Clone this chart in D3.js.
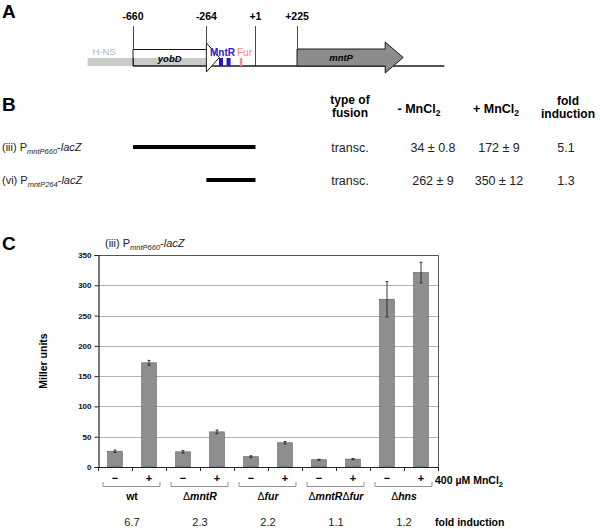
<!DOCTYPE html>
<html><head><meta charset="utf-8">
<script src="https://cdn.jsdelivr.net/npm/d3@7"></script>
<style>body{margin:0;background:#fff}svg{font-family:"Liberation Sans",Arial,sans-serif}</style>
</head><body><svg id="c" width="600" height="529"></svg>
<script>
// ---- Panel A: gene map (positions in bp relative to +1) ----
const mapTicks = [-660, -264, 1, 225];
const mapTickLabels = ["-660", "-264", "+1", "+225"];
const hnsRegion = [-905, -264];
const yobD = [-660, -264, -194];      // start, body end, arrow tip
const mntRSites = [-196, -155];
const furSites = [-84];
const mntP = [225, 798];               // start, arrow tip
const lineSpan = [-660, 1020];

// ---- Panel B: table ----
const fusionNames = [["(iii) P", "mntP660", "-lacZ"], ["(vi) P", "mntP264", "-lacZ"]];
const fusionStarts = [-660, -264];
const fusionEnd = 1;
const fusionType = ["transc.", "transc."];
const minusMn = ["34 ± 0.8", "262 ± 9"];
const plusMn = ["172 ± 9", "350 ± 12"];
const foldB = ["5.1", "1.3"];

// ---- Panel C: bar chart ----
const strains = ["wt", "ΔmntR", "Δfur", "ΔmntRΔfur", "Δhns"];
const conditions = ["−", "+"];
const values = [26, 172, 25, 58, 17, 40, 12, 13, 277, 321];
const errors = [2, 4, 2, 3, 1.5, 2, 0.8, 1, 29, 17];
const foldC = ["6.7", "2.3", "2.2", "1.1", "1.2"];
const yTicks = [0, 50, 100, 150, 200, 250, 300, 350];

const svg = d3.select("#c");
const black = "#1a1a1a";

// ================= Panel A =================
const gx = d3.scaleLinear().domain([-660, 225]).range([133, 297]);
svg.append("text").attr("x", 2).attr("y", 18).attr("font-size", 19).attr("font-weight", "bold").text("A");

svg.append("rect").attr("x", gx(hnsRegion[0])).attr("y", 58).attr("width", gx(hnsRegion[1]) - gx(hnsRegion[0])).attr("height", 8).attr("fill", "#c9cbc9");
svg.append("text").attr("x", gx(hnsRegion[0]) + 5).attr("y", 55).attr("font-size", 9.5).attr("fill", "#b5b5b5").text("H-NS");

svg.append("line").attr("x1", gx(lineSpan[0])).attr("x2", gx(lineSpan[1])).attr("y1", 66).attr("y2", 66).attr("stroke", black).attr("stroke-width", 1.6);

mapTicks.forEach((t, i) => {
  const x = Math.round(gx(t)) + 0.5;
  svg.append("line").attr("x1", x).attr("x2", x).attr("y1", 26).attr("y2", i === 1 ? 44 : 66).attr("stroke", black).attr("stroke-width", 0.8);
  svg.append("text").attr("x", gx(t)).attr("y", 20).attr("text-anchor", "middle").attr("font-size", 10.5).attr("font-weight", "bold").text(mapTickLabels[i]);
});

svg.append("rect").attr("x", gx(yobD[0])).attr("y", 49.5).attr("width", gx(yobD[1]) - gx(yobD[0])).attr("height", 8.5).attr("fill", "#fff");
svg.append("path").attr("d", `M${gx(yobD[0])},66 V49.5 H${gx(yobD[1])}`).attr("fill", "none").attr("stroke", black).attr("stroke-width", 1);
svg.append("path").attr("d", `M${gx(yobD[1])},43 L${gx(yobD[2])},57.5 L${gx(yobD[1])},72 Z`).attr("fill", "#fff").attr("stroke", black).attr("stroke-width", 1);
svg.append("text").attr("x", (gx(yobD[0]) + gx(yobD[1])) / 2).attr("y", 62).attr("text-anchor", "middle").attr("font-size", 9.5).attr("font-weight", "bold").attr("font-style", "italic").text("yobD");

mntRSites.forEach(s => svg.append("rect").attr("x", gx(s)).attr("y", 58).attr("width", 4).attr("height", 8).attr("fill", "#2a10d8"));
furSites.forEach(s => svg.append("rect").attr("x", gx(s)).attr("y", 58).attr("width", 2.5).attr("height", 8).attr("fill", "#f0908e"));
svg.append("text").attr("x", 210).attr("y", 56).attr("font-size", 10).attr("font-weight", "bold").attr("fill", "#3418d8").text("MntR");
svg.append("text").attr("x", 237).attr("y", 56).attr("font-size", 10).attr("fill", "#f08a88").text("Fur");

const mp0 = gx(mntP[0]), mp1 = gx(mntP[1]), headW = 18;
svg.append("path").attr("d", `M${mp0},49 H${mp1 - headW} V42 L${mp1},57.5 L${mp1 - headW},73 V66 H${mp0} Z`).attr("fill", "#8c8c8c").attr("stroke", black).attr("stroke-width", 1);
svg.append("text").attr("x", (mp0 + mp1 - headW) / 2).attr("y", 61).attr("text-anchor", "middle").attr("font-size", 9.5).attr("font-weight", "bold").attr("font-style", "italic").text("mntP");

// ================= Panel B =================
svg.append("text").attr("x", 2).attr("y", 111).attr("font-size", 19).attr("font-weight", "bold").text("B");
const hdr = (x, lines, yStart) => {
  lines.forEach((l, i) => svg.append("text").attr("x", x).attr("y", yStart + i * 12.5)
    .attr("text-anchor", "middle").attr("font-size", 12).attr("font-weight", "bold").text(l));
};
hdr(350, ["type of", "fusion"], 104);
hdr(568, ["fold", "induction"], 105);
[["- MnCl", 419], ["+ MnCl", 496]].forEach(([lab, x]) => {
  const t = svg.append("text").attr("x", x).attr("y", 113).attr("text-anchor", "middle").attr("font-size", 12.5).attr("font-weight", "bold");
  t.append("tspan").text(lab);
  t.append("tspan").attr("dy", 3).attr("font-size", 8.5).text("2");
});

const rowY = [147, 180];
fusionNames.forEach((n, i) => {
  const y = rowY[i];
  const t = svg.append("text").attr("x", 2).attr("y", y + 4).attr("font-size", 11).attr("fill", "#222");
  t.append("tspan").text(n[0]);
  t.append("tspan").attr("dy", 3).attr("font-size", 7.5).attr("font-style", "italic").text(n[1]);
  t.append("tspan").attr("dy", -3).text("-");
  t.append("tspan").attr("font-style", "italic").text(n[2].slice(1));
  svg.append("line").attr("x1", gx(fusionStarts[i])).attr("x2", gx(fusionEnd)).attr("y1", y).attr("y2", y).attr("stroke", "#000").attr("stroke-width", 4);
  [[fusionType[i], 350], [minusMn[i], 433], [plusMn[i], 499], [foldB[i], 566]].forEach(([s, x]) => {
    svg.append("text").attr("x", x).attr("y", y + 4.5).attr("text-anchor", "middle").attr("font-size", 12.5).attr("fill", "#222").text(s);
  });
});

// ================= Panel C =================
svg.append("text").attr("x", 2).attr("y", 250).attr("font-size", 19).attr("font-weight", "bold").text("C");
{
  const t = svg.append("text").attr("x", 105).attr("y", 247).attr("font-size", 11).attr("fill", "#222");
  t.append("tspan").text("(iii) P");
  t.append("tspan").attr("dy", 3).attr("font-size", 7.5).attr("font-style", "italic").text("mntP660");
  t.append("tspan").attr("dy", -3).text("-");
  t.append("tspan").attr("font-style", "italic").text("lacZ");
}

const L = 98, R = 438, T = 255, B = 467;
const y = d3.scaleLinear().domain([0, 350]).range([B, T]);
const idx = d3.range(values.length);
const x = d3.scaleBand().domain(idx).range([L, R]).paddingInner(0.57).paddingOuter(0.285);

svg.append("g").selectAll("line").data(yTicks.filter(d => d > 0 && d < 350)).join("line")
  .attr("x1", L).attr("x2", R).attr("y1", d => Math.round(y(d)) + 0.5).attr("y2", d => Math.round(y(d)) + 0.5)
  .attr("stroke", "#b4b4b4").attr("stroke-width", 1);

svg.append("path").attr("d", `M${L},${T + 0.5} H${R + 0.5} V${B}`).attr("fill", "none").attr("stroke", "#555").attr("stroke-width", 1);

svg.append("g").selectAll("rect").data(idx).join("rect")
  .attr("x", i => x(i)).attr("width", x.bandwidth())
  .attr("y", i => y(values[i])).attr("height", i => B - y(values[i]))
  .attr("fill", "#8e8e8e").attr("stroke", "#5a5a5a").attr("stroke-width", 0.6);

const eb = svg.append("g").attr("stroke", "#222").attr("stroke-width", 0.9);
idx.forEach(i => {
  const cx = x(i) + x.bandwidth() / 2;
  const y1 = y(values[i] + errors[i]), y2 = y(values[i] - errors[i]);
  eb.append("line").attr("x1", cx).attr("x2", cx).attr("y1", y1).attr("y2", y2);
  eb.append("line").attr("x1", cx - 1.5).attr("x2", cx + 1.5).attr("y1", y1).attr("y2", y1);
  eb.append("line").attr("x1", cx - 1.5).attr("x2", cx + 1.5).attr("y1", y2).attr("y2", y2);
});

const yAxis = svg.append("g").attr("transform", `translate(${L + 0.5},0)`)
  .call(d3.axisLeft(y).tickValues(yTicks).tickSize(4).tickPadding(3));
yAxis.select(".domain").attr("stroke", "#222").attr("stroke-width", 1.2);
yAxis.selectAll(".tick line").attr("stroke", "#222");
yAxis.selectAll("text").attr("font-size", 8).attr("font-weight", "bold").attr("fill", "#111").attr("font-family", "Liberation Sans, Arial, sans-serif");

const xb = svg.append("g");
xb.append("line").attr("x1", L).attr("x2", R + 0.5).attr("y1", B + 0.5).attr("y2", B + 0.5).attr("stroke", "#222").attr("stroke-width", 1.2);
d3.range(values.length + 1).forEach(k => {
  const xx = Math.round(L + x.step() * k) + 0.5;
  xb.append("line").attr("x1", xx).attr("x2", xx).attr("y1", B).attr("y2", B + 4).attr("stroke", "#222");
});

svg.append("g").selectAll("text").data(idx).join("text")
  .attr("x", i => x(i) + x.bandwidth() / 2).attr("y", 482).attr("text-anchor", "middle")
  .attr("font-size", 11).attr("font-weight", "bold").text(i => conditions[i % 2]);

strains.forEach((s, g) => {
  const c0 = x(2 * g) + x.bandwidth() / 2, c1 = x(2 * g + 1) + x.bandwidth() / 2;
  svg.append("path").attr("d", `M${c0 - 12},${482} V${486.5} H${c1 + 11} V${482}`).attr("fill", "none").attr("stroke", "#777").attr("stroke-width", 0.8);
  const t = svg.append("text").attr("x", (c0 + c1) / 2).attr("y", 500).attr("text-anchor", "middle").attr("font-size", 10.5).attr("font-weight", "bold");
  s.split(/(Δ)/).filter(p => p).forEach(p => {
    t.append("tspan").attr("font-style", p === "Δ" || s === "wt" ? "normal" : "italic").attr("font-weight", p === "Δ" ? "normal" : "bold").text(p);
  });
  svg.append("text").attr("x", (c0 + c1) / 2).attr("y", 526).attr("text-anchor", "middle").attr("font-size", 11).attr("fill", "#222").text(foldC[g]);
});

{
  const t = svg.append("text").attr("x", 435).attr("y", 484).attr("font-size", 10.5).attr("font-weight", "bold");
  t.append("tspan").text("400 µM MnCl");
  t.append("tspan").attr("dy", 3).attr("font-size", 7.5).text("2");
}
svg.append("text").attr("x", 435).attr("y", 526).attr("font-size", 10.5).attr("font-weight", "bold").text("fold induction");

svg.append("text").attr("transform", "translate(47,361) rotate(-90)").attr("text-anchor", "middle")
  .attr("font-size", 10.5).attr("font-weight", "bold").text("Miller units");
</script></body></html>
